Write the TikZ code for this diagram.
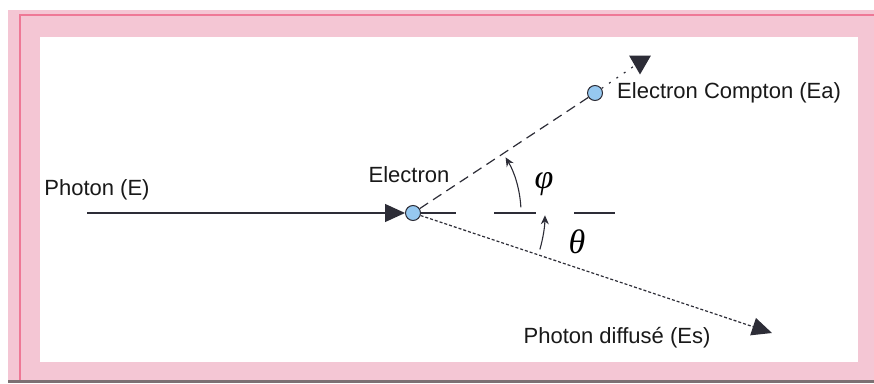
\documentclass[tikz,border=0pt]{standalone}
\usepackage{fontspec}
\setmainfont{Liberation Sans}
\newfontfamily\greekfont{Liberation Serif}
\usetikzlibrary{arrows.meta,positioning,shapes.geometric}
\definecolor{framepink}{RGB}{244,198,212}
\definecolor{framered}{RGB}{238,120,150}
\definecolor{framegray}{RGB}{125,112,115}
\definecolor{electronblue}{RGB}{150,200,240}
\definecolor{inkgray}{RGB}{45,45,55}

\begin{document}
\begin{tikzpicture}[x=1pt, y=1pt,
    label/.style={font=\fontsize{22}{26}\selectfont, text=black!90, inner sep=0pt},
    greek/.style={font=\greekfont\itshape\fontsize{34}{34}\selectfont, inner sep=0pt},
    particle/.style={circle, draw=inkgray, fill=electronblue, line width=1pt,
                     minimum size=15pt, inner sep=0pt},
    ray/.style={draw=inkgray, line width=1.2pt},
    bigtip/.style={-{Triangle[length=20pt,width=18pt]}},
    angarrow/.style={draw=inkgray, line width=1.1pt, -{Stealth[length=9pt,width=8pt]}}
]

% Frame
\useasboundingbox (0,0) rectangle (874,383);
\fill[framepink] (8,3) rectangle (874,373);
\fill[framegray] (8,0) rectangle (874,3);
\draw[framered, line width=1.5pt] (20,3) -- (20,368) -- (874,368);
\fill[white] (40,21) rectangle (858,346);

% Particles
\node[particle] (e) at (413,170) {};
\node[particle] (cc) at (595,290) {};
\node[regular polygon, regular polygon sides=3, shape border rotate=180,
      fill=inkgray, minimum size=25pt, inner sep=0pt] (tip) at (640,321) {};

% Labels
\node[label] (photon) at (97,193) {Photon (E)};
\node[label] (electron) at (409,208) {Electron};
\node[label, right=14pt of cc] (compton) {Electron Compton (Ea)};
\node[label] (scattered) at (617,45) {Photon diffusé (Es)};
\node[greek] (phi) at (544,199) {φ};
\node[greek] (theta) at (577,141) {θ};

\coordinate (start) at (87,170);
\coordinate (ref) at (615,170);
\coordinate (out) at (772,50);

% Rays
\draw[ray, bigtip] (start) -- (e.west);
\draw[ray, dash pattern=on 35pt off 38pt on 42pt off 38pt on 42pt off 10pt] (e.east) -- (ref);
\draw[ray, dash pattern=on 10pt off 6pt] (e) -- (cc);
\draw[ray, dash pattern=on 2pt off 7pt] (cc) -- (tip);
\draw[ray, densely dashed, bigtip] (e) -- (out);

% Angles
\draw[angarrow] (e) ++(3:108) arc[start angle=3, end angle=31, radius=108];
\draw[angarrow] (e) ++(-16:132) arc[start angle=-16, end angle=-1, radius=132];

\end{tikzpicture}
\end{document}
